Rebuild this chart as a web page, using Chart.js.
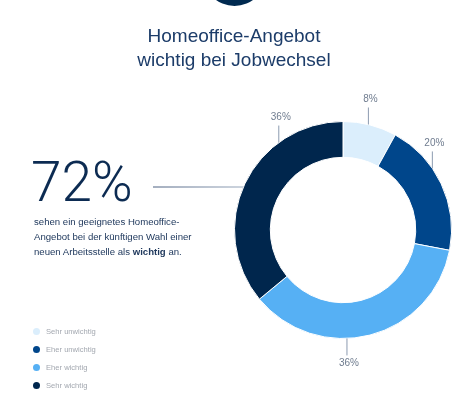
<!DOCTYPE html>
<html>
<head>
<meta charset="utf-8">
<script src="https://cdn.jsdelivr.net/npm/chart.js@4.4.0/dist/chart.umd.min.js"></script>
<style>
  html, body { margin: 0; padding: 0; background: #fff; }
  #wrap { position: relative; width: 468px; height: 403px; overflow: hidden; font-family: "Liberation Sans", Arial, sans-serif; }
  #wrap canvas { position: absolute; left: 0; top: 0; }
  .badge { position: absolute; left: 203px; top: -57px; width: 63px; height: 63px; border-radius: 50%; background: #002a50; }
  .title { position: absolute; left: 0; width: 468px; top: 24px; text-align: center; color: #1c3c69; font-size: 19px; line-height: 24px; }
  .big { position: absolute; left: 31px; top: 152px; color: #0c2b52; font-family: Roboto, "Liberation Sans", sans-serif; font-weight: 300; font-size: 55px; line-height: 60px; }
  .text { position: absolute; left: 34px; top: 214px; color: #213a5e; font-size: 9.6px; line-height: 15px; }
  .legend { position: absolute; left: 33px; top: 322px; }
  .legend div { height: 18px; display: flex; align-items: center; color: #a3a8b0; font-size: 7.6px; }
  .legend span.dot { display: inline-block; width: 7px; height: 7px; border-radius: 50%; margin-right: 6px; }
</style>
</head>
<body>
<div id="wrap">
  <canvas id="chart" width="468" height="403"></canvas>
  <div class="badge"></div>
  <div class="title">Homeoffice-Angebot<br>wichtig bei Jobwechsel</div>
  <div class="big">72%</div>
  <div class="text">sehen ein geeignetes Homeoffice-<br>Angebot bei der künftigen Wahl einer<br>neuen Arbeitsstelle als <b>wichtig</b> an.</div>
  <div class="legend" id="legend"></div>
</div>
<script>
const kategorien = ['Sehr unwichtig', 'Eher unwichtig', 'Eher wichtig', 'Sehr wichtig'];
const werte = [8, 20, 36, 36];
const farben = ['#dbeefc', '#00468b', '#56b0f4', '#00264d'];

// where on each slice the leader line starts (fraction of the arc)
const leaderPos = [0.47, 0.37, 0.595, 0.72];

const leaderPlugin = {
  id: 'leaders',
  afterDatasetsDraw(chart) {
    const ctx = chart.ctx;
    const meta = chart.getDatasetMeta(0);
    ctx.save();
    meta.data.forEach((arc, i) => {
      const a = arc.startAngle + leaderPos[i] * (arc.endAngle - arc.startAngle);
      const x = arc.x + Math.cos(a) * arc.outerRadius;
      const y = arc.y + Math.sin(a) * arc.outerRadius;
      const dir = y < arc.y ? -1 : 1;
      ctx.strokeStyle = '#8c9bb0';
      ctx.lineWidth = 1;
      ctx.beginPath();
      ctx.moveTo(x, y);
      ctx.lineTo(x, y + dir * 17);
      ctx.stroke();
      ctx.fillStyle = '#6f7c8f';
      ctx.font = '10px "Liberation Sans", Arial, sans-serif';
      ctx.textAlign = 'center';
      ctx.textBaseline = 'middle';
      ctx.fillText(werte[i] + '%', x + 2, y + dir * 25);
    });

    // connector from the 72% figure to the ring
    const ring = meta.data[0];
    const ly = 187;
    const dx = Math.sqrt(ring.outerRadius * ring.outerRadius - (ring.y - ly) * (ring.y - ly));
    const grad = ctx.createLinearGradient(153, 0, ring.x - dx, 0);
    grad.addColorStop(0, '#4a5f80');
    grad.addColorStop(1, '#9aa9bd');
    ctx.strokeStyle = grad;
    ctx.lineWidth = 1;
    ctx.beginPath();
    ctx.moveTo(153, ly);
    ctx.lineTo(ring.x - dx, ly);
    ctx.stroke();
    ctx.restore();
  }
};

new Chart(document.getElementById('chart'), {
  type: 'doughnut',
  data: {
    labels: kategorien,
    datasets: [{
      data: werte,
      backgroundColor: farben,
      borderColor: '#ffffff',
      borderWidth: 1,
      hoverOffset: 0
    }]
  },
  options: {
    responsive: false,
    animation: false,
    cutout: '67%',
    layout: { padding: { left: 234, right: 16, top: 121, bottom: 64 } },
    plugins: {
      legend: { display: false },
      tooltip: { enabled: false }
    }
  },
  plugins: [leaderPlugin]
});

const legend = document.getElementById('legend');
kategorien.forEach((k, i) => {
  const row = document.createElement('div');
  row.innerHTML = '<span class="dot" style="background:' + farben[i] + '"></span>' + k;
  legend.appendChild(row);
});
</script>
</body>
</html>
